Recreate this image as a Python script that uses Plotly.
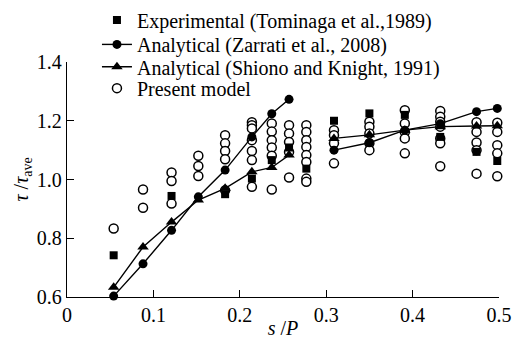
import plotly.graph_objects as go

# column positions s/P
s_cols = [0.054, 0.088, 0.121, 0.152, 0.183, 0.214, 0.237, 0.257, 0.277,
          0.309, 0.350, 0.391, 0.432, 0.474, 0.498]

experimental = [0.742, None, 0.944, None, 0.950, 1.003, 1.066, 1.109, 1.037,
                1.200, 1.225, 1.220, 1.145, 1.094, 1.063]
zarrati = [0.603, 0.713, 0.827, 0.941, 1.032, 1.145, 1.224, 1.273, None,
           1.100, 1.125, 1.168, 1.190, 1.231, 1.242]
shiono = [0.633, 0.770, 0.855, 0.930, 0.970, 1.026, 1.041, 1.083, None,
          1.140, 1.152, 1.168, 1.180, 1.182, 1.183]

present_by_col = [
    [0.833],
    [0.966, 0.904],
    [1.024, 0.995, 0.918],
    [1.081, 1.046, 1.012],
    [1.151, 1.123, 1.097, 1.069, 0.963],
    [1.195, 1.185, 1.174, 1.134, 1.097, 1.066, 0.975],
    [1.191, 1.163, 1.134, 1.109, 1.081, 0.966],
    [1.185, 1.157, 1.128, 1.094, 1.007],
    [1.185, 1.162, 1.134, 1.111, 1.083, 1.060, 1.003, 0.992],
    [1.168, 1.151, 1.123, 1.055],
    [1.197, 1.180, 1.157, 1.123, 1.100],
    [1.236, 1.191, 1.162, 1.140, 1.089],
    [1.233, 1.214, 1.197, 1.180, 1.140, 1.123, 1.045],
    [1.195, 1.162, 1.126, 1.100, 1.020],
    [1.193, 1.162, 1.117, 1.089, 1.011],
]
present_s = [s for s, col in zip(s_cols, present_by_col) for _ in col]
present_tau = [v for col in present_by_col for v in col]

x_ticks = [0, 0.1, 0.2, 0.3, 0.4, 0.5]
x_ticklabels = ["0", "0.1", "0.2", "0.3", "0.4", "0.5"]
y_ticks = [0.6, 0.8, 1.0, 1.2, 1.4]
y_ticklabels = ["0.6", "0.8", "1.0", "1.2", "1.4"]

FONT = "Liberation Serif, Times New Roman, serif"

fig = go.Figure()
fig.add_trace(go.Scatter(
    x=present_s, y=present_tau, mode="markers", name="Present model",
    legend="legend4", cliponaxis=False,
    marker=dict(symbol="circle", size=9, color="white",
                line=dict(color="black", width=1.5))))
fig.add_trace(go.Scatter(
    x=s_cols, y=experimental, mode="markers",
    name="Experimental (Tominaga et al.,1989)", legend="legend", cliponaxis=False,
    marker=dict(symbol="square", size=8, color="black")))
fig.add_trace(go.Scatter(
    x=s_cols, y=zarrati, mode="lines+markers",
    name="Analytical (Zarrati et al., 2008)", legend="legend2", cliponaxis=False,
    line=dict(color="black", width=1.4),
    marker=dict(symbol="circle", size=9, color="black")))
fig.add_trace(go.Scatter(
    x=s_cols, y=shiono, mode="lines+markers",
    name="Analytical (Shiono and Knight, 1991)", legend="legend3", cliponaxis=False,
    line=dict(color="black", width=1.4),
    marker=dict(symbol="triangle-up", size=10, color="black")))

def leg(y):
    return dict(x=0.189, y=y, xref="container", yref="container",
                xanchor="left", yanchor="middle",
                bgcolor="rgba(0,0,0,0)", borderwidth=0,
                font=dict(family=FONT, size=20, color="black"), itemwidth=30)

fig.update_layout(
    width=513, height=339,
    margin=dict(l=67, r=14, t=62, b=42, autoexpand=False),
    paper_bgcolor="white", plot_bgcolor="white",
    font=dict(family=FONT, size=20, color="black"),
    showlegend=True,
    legend=leg(0.941), legend2=leg(0.869), legend3=leg(0.803), legend4=leg(0.740),
    xaxis=dict(range=[0, 0.5], tickvals=x_ticks, ticktext=x_ticklabels,
               ticks="inside", ticklen=7, tickwidth=1.2, tickcolor="black",
               showline=True, linecolor="black", linewidth=1.3,
               showgrid=False, zeroline=False,
               tickfont=dict(family=FONT, size=20),
               title=dict(text="<i>s</i> /<i>P</i>", standoff=2,
                          font=dict(family=FONT, size=20))),
    yaxis=dict(range=[0.6, 1.4], tickvals=y_ticks, ticktext=y_ticklabels,
               ticks="inside", ticklen=7, tickwidth=1.2, tickcolor="black",
               showline=True, linecolor="black", linewidth=1.3,
               showgrid=False, zeroline=False,
               tickfont=dict(family=FONT, size=20)),
    annotations=[dict(text="<i>τ</i> /<i>τ</i><sub>ave</sub>",
                      xref="paper", yref="paper", x=-0.104, y=0.5,
                      xanchor="center", yanchor="middle", textangle=-90,
                      showarrow=False, font=dict(family=FONT, size=20))],
)

fig.write_html("out.html")
